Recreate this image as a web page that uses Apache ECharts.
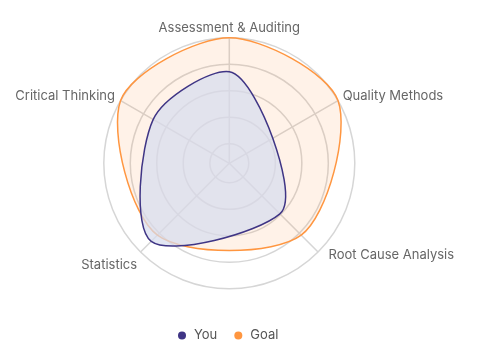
<!DOCTYPE html>
<html><head><meta charset="utf-8">
<script src="https://cdn.jsdelivr.net/npm/echarts@6/dist/echarts.min.js"></script>
<style>html,body{margin:0;padding:0;background:#fff}#c{width:480px;height:363px}</style>
</head><body><div id="c"></div>
<script>
// ---- data ----
const categories = ['Assessment & Auditing', 'Quality Methods', 'Root Cause Analysis', 'Statistics', 'Critical Thinking'];
const youValues = [73, 40, 57, 88, 70];
const goalValues = [100, 100, 81, 81, 100];
const ringValues = [15.5, 36.7, 57.8, 78.9, 100];
const seriesNames = ['You', 'Goal'];

// ---- layout / style ----
const axisAngles = [0, 60, 135, 225, 300];
const labelPad = [[0, 0, 8, 0], [0, 0, 0, 9], [0, 0, 0, 14], [10, 7, 0, 0], [0, 10, 0, 0]];
const FONT = 'Inter, "Noto Sans", sans-serif';
const gridColor = '#d6d6d6';
const youColor = '#3f3585';
const goalColor = '#ff9640';

const rich = {};
categories.forEach((c, i) => {
  rich['l' + i] = { fontFamily: FONT, fontSize: 13, color: '#666', padding: labelPad[i] };
});

function areaSeries(name, values, color, fill, z) {
  return {
    type: 'custom',
    name: name,
    coordinateSystem: 'polar',
    z: z,
    itemStyle: { color: color },
    data: values.map((v, i) => [v, axisAngles[i]]),
    renderItem: function (params, api) {
      if (params.dataIndex !== 0) return null;
      const pts = values.map((v, i) => api.coord([v, axisAngles[i]]));
      return {
        type: 'polygon',
        shape: { points: pts, smooth: 0.3 },
        style: { fill: fill, stroke: color, lineWidth: 1.5 }
      };
    }
  };
}

const chart = echarts.init(document.getElementById('c'));
chart.setOption({
  animation: false,
  backgroundColor: '#fff',
  polar: { center: [229.3, 163.3], radius: 125.5 },
  angleAxis: {
    type: 'value', min: 0, max: 360, startAngle: 90, clockwise: true,
    axisLine: { show: false },
    axisTick: { show: false, customValues: axisAngles },
    splitLine: { show: true, lineStyle: { color: gridColor, width: 1.5 } },
    axisLabel: {
      customValues: axisAngles,
      margin: -5,
      formatter: function (v) {
        const i = axisAngles.indexOf(v);
        return '{l' + i + '|' + categories[i] + '}';
      },
      rich: rich
    }
  },
  radiusAxis: {
    type: 'value', min: 0, max: 100,
    axisLine: { show: false },
    axisTick: { show: false, customValues: ringValues },
    axisLabel: { show: false },
    splitLine: { show: true, lineStyle: { color: gridColor, width: 1.5 } }
  },
  legend: {
    data: seriesNames,
    left: 173, top: 324,
    icon: 'circle', itemWidth: 14, itemHeight: 8, itemGap: 17,
    textStyle: { fontFamily: FONT, fontSize: 13, color: '#555' }
  },
  series: [
    areaSeries(seriesNames[1], goalValues, goalColor, 'rgba(255,150,64,0.12)', 2),
    areaSeries(seriesNames[0], youValues, youColor, 'rgba(215,221,238,0.72)', 3)
  ]
});
</script>
</body></html>
